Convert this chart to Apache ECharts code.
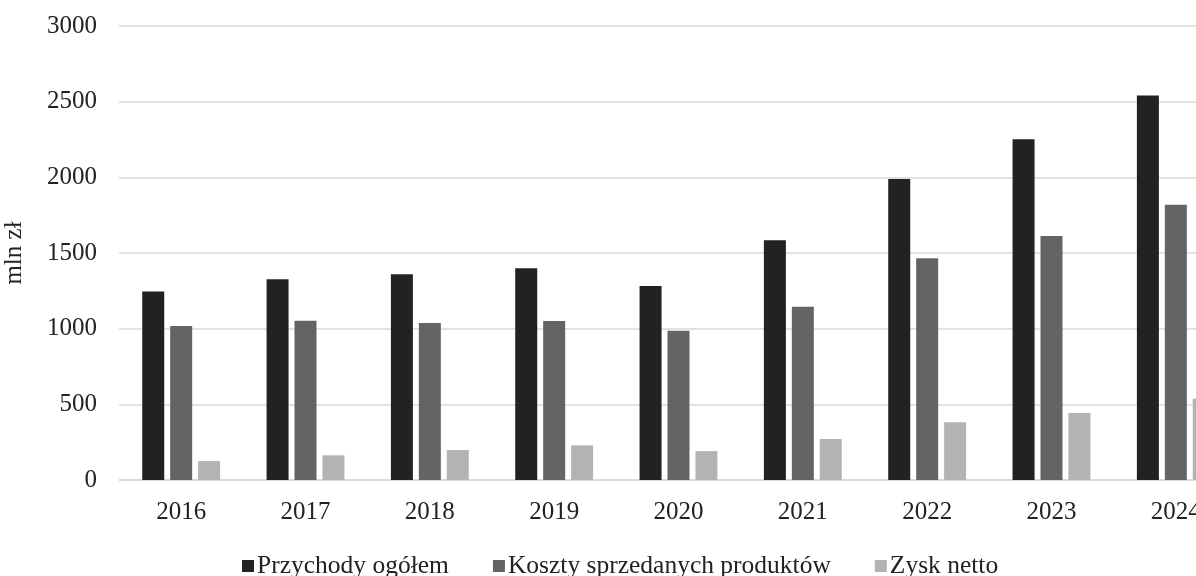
<!DOCTYPE html>
<html>
<head>
<meta charset="utf-8">
<script src="https://cdn.jsdelivr.net/npm/echarts@6/dist/echarts.min.js"></script>
<style>
  html, body { margin: 0; padding: 0; background: #fff; }
  #chart { width: 1196px; height: 576px; }
</style>
</head>
<body>
<div id="chart"></div>
<script>
var years = ['2016', '2017', '2018', '2019', '2020', '2021', '2022', '2023', '2024']
var przychody = [1245, 1326, 1359, 1399, 1282, 1584, 1989, 2251, 2540]
var koszty = [1018, 1053, 1037, 1051, 987, 1145, 1465, 1612, 1819]
var zysk = [125, 163, 198, 229, 191, 271, 381, 443, 537]
var yTicks = [0, 500, 1000, 1500, 2000, 2500, 3000]

var font = 'Liberation Serif, Times New Roman, serif'
var chart = echarts.init(document.getElementById('chart'))

function bar (name, color, data) {
  return {
    name: name,
    type: 'bar',
    barWidth: 22,
    barGap: '27%',
    itemStyle: { color: color },
    data: data
  }
}

chart.setOption({
  animation: false,
  textStyle: { fontFamily: font, color: '#222' },
  grid: { left: 119, top: 26, width: 1119, height: 454, outerBoundsMode: 'none', containLabel: false },
  legend: {
    left: 242,
    top: 553,
    padding: 0,
    icon: 'rect',
    itemWidth: 12,
    itemHeight: 12,
    itemGap: 44,
    textStyle: { fontFamily: font, fontSize: 25.5, color: '#222', padding: [0, 0, 0, -2] },
    data: ['Przychody ogółem', 'Koszty sprzedanych produktów', 'Zysk netto']
  },
  xAxis: {
    type: 'category',
    data: years,
    axisLine: { lineStyle: { color: '#d9d9d9', width: 1.5 } },
    axisTick: { show: false },
    axisLabel: { fontFamily: font, fontSize: 25, color: '#222', margin: 20 }
  },
  yAxis: {
    type: 'value',
    min: yTicks[0],
    max: yTicks[yTicks.length - 1],
    interval: 500,
    name: 'mln zł',
    nameLocation: 'middle',
    nameGap: 92,
    nameTextStyle: { fontFamily: font, fontSize: 25, color: '#222' },
    axisLine: { show: false },
    axisTick: { show: false },
    splitLine: { lineStyle: { color: '#d9d9d9', width: 1.5 } },
    axisLabel: {
      fontFamily: font, fontSize: 25, color: '#222', margin: 22,
      formatter: function (v) { return String(v) }
    }
  },
  series: [
    bar('Przychody ogółem', '#222220', przychody),
    bar('Koszty sprzedanych produktów', '#636466', koszty),
    bar('Zysk netto', '#b2b3b5', zysk)
  ]
})
</script>
</body>
</html>
